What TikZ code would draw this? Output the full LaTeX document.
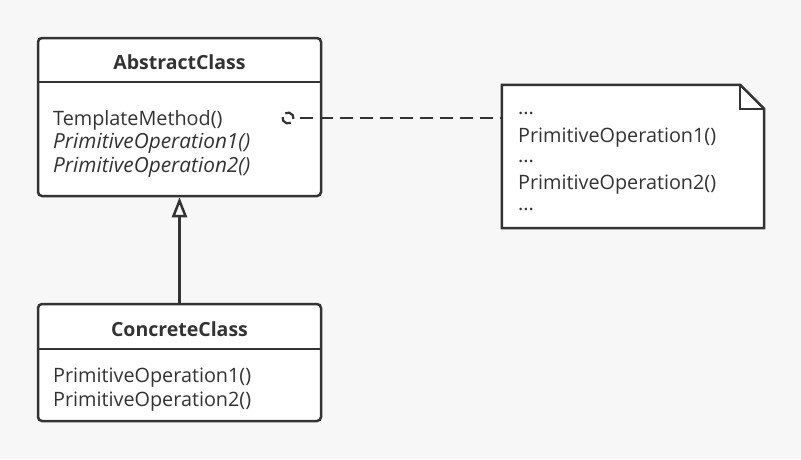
\documentclass[tikz,border=0pt]{standalone}
\usepackage{fontspec}
\setmainfont{Open Sans}
\usetikzlibrary{arrows.meta}
\definecolor{bg}{RGB}{247,247,247}
\definecolor{ln}{RGB}{51,51,51}
\begin{document}
\begin{tikzpicture}[x=1pt,y=-1pt,
  box/.style={draw=ln, fill=white, line width=2.5pt, rounded corners=4pt, inner sep=0pt},
  rule/.style={draw=ln, line width=2.5pt},
  txt/.style={text=ln, font=\fontsize{19.8}{22}\selectfont, inner sep=0pt, anchor=west},
  itxt/.style={txt, font=\fontsize{20.8}{22}\selectfont\itshape},
  ttl/.style={text=ln, font=\fontsize{19.5}{22}\selectfont\bfseries, inner sep=0pt}]
\fill[bg] (0,0) rectangle (801,459);
\useasboundingbox (0,0) rectangle (801,459);
% AbstractClass
\node[box, minimum width=283pt, minimum height=158pt] (abs) at (179.5,117) {};
\draw[rule] (abs.west |- 0,82) -- (abs.east |- 0,82);
\node[ttl] (absT) at (179.5,62) {AbstractClass};
\node[txt] (m1) at (53,120) {TemplateMethod()};
\node[itxt] (m2) at (53,143) {PrimitiveOperation1()};
\node[itxt] (m3) at (53,167) {PrimitiveOperation2()};
% ConcreteClass
\node[box, minimum width=283pt, minimum height=117pt] (conc) at (179.5,362.5) {};
\draw[rule] (conc.west |- 0,349) -- (conc.east |- 0,349);
\node[ttl] (concT) at (179.5,329) {ConcreteClass};
\node[txt] (c1) at (53,378) {PrimitiveOperation1()};
\node[txt] (c2) at (53,402) {PrimitiveOperation2()};
% generalization
\draw[ln, line width=2.5pt, -{Triangle[open, length=20pt, width=15pt, line width=2.5pt]}] (conc.north) -- (abs.south);
% note
\node[minimum width=262pt, minimum height=143pt, inner sep=0pt] (note) at (633,156.5) {};
\draw[ln, line width=2.5pt, fill=white, line join=miter]
  (note.north west) -- ([xshift=-24pt]note.north east) -- ([yshift=-24pt]note.north east)
  -- (note.south east) -- (note.south west) -- cycle;
\draw[ln, line width=2.5pt] ([xshift=-24pt]note.north east) -- ([xshift=-24pt,yshift=-24pt]note.north east) -- ([yshift=-24pt]note.north east);
\node[txt] (n1) at (518,113) {...};
\node[txt] (n2) at (518,138) {PrimitiveOperation1()};
\node[txt] (n3) at (518,161) {...};
\node[txt] (n4) at (518,185) {PrimitiveOperation2()};
\node[txt] (n5) at (518,209) {...};
% icon and dashed link
\coordinate (icon) at (288,118);
\draw[ln, line width=2.2pt] (icon) ++(-60:5.5pt) arc[start angle=-60, end angle=-190, radius=5.5pt];
\draw[ln, line width=2.2pt] (icon) ++(-240:5.5pt) arc[start angle=-240, end angle=-370, radius=5.5pt];
\draw[ln, line width=2.8pt, dash pattern=on 13pt off 7pt] ([xshift=12pt]icon) -- (icon -| note.west);
\end{tikzpicture}
\end{document}
